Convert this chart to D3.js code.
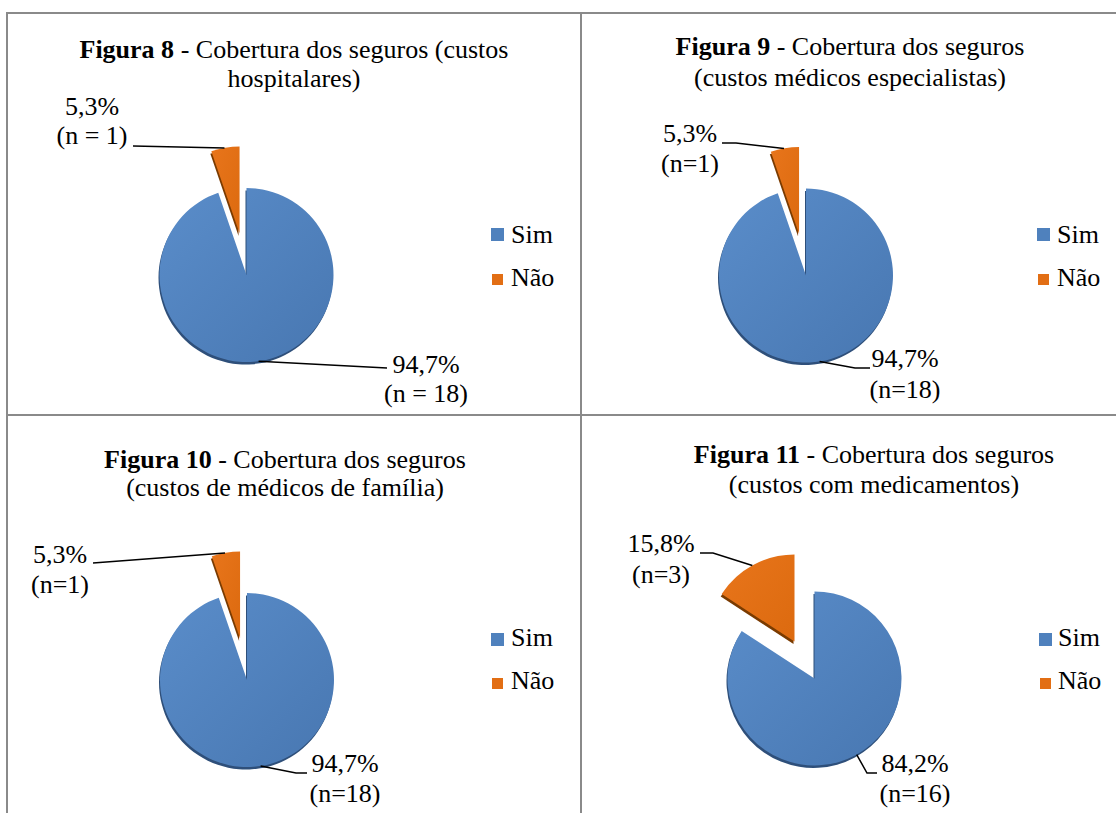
<!DOCTYPE html>
<html>
<head>
<meta charset="utf-8">
<script src="https://cdn.jsdelivr.net/npm/d3@7"></script>
<style>
  html, body { margin: 0; padding: 0; background: #fff; }
  svg text { font-family: "Liberation Serif", "Times New Roman", serif; fill: #000; }
</style>
</head>
<body>
<svg id="chart" width="1116" height="813"></svg>
<script>
// data
const categories = ["Sim", "Não"];
const figNumbers = ["Figura 8", "Figura 9", "Figura 10", "Figura 11"];
const titleLine1 = [" - Cobertura dos seguros (custos", " - Cobertura dos seguros", " - Cobertura dos seguros", " - Cobertura dos seguros"];
const titleLine2 = ["hospitalares)", "(custos médicos especialistas)", "(custos de médicos de família)", "(custos com medicamentos)"];
const fig8Values = [18, 1];
const fig9Values = [18, 1];
const fig10Values = [18, 1];
const fig11Values = [16, 3];
const countPrefix = ["n = ", "n=", "n=", "n="];

const allValues = [fig8Values, fig9Values, fig10Values, fig11Values];

// layout of each panel (positions only)
const layout = [
  { cx: 246.5, cy: 275, tx: 294, ty: [58, 87], legX: 491, legY: [228, 274], txtX: 511, txtY: [243, 286],
    labels: [ {x: 426, y: [373, 402], ang: 172, pts: [[387, 368]]},
              {x: 92, y: [115, 144], ang: -10, pts: [[133, 146]]} ] },
  { cx: 806, cy: 275.5, tx: 850, ty: [55, 86], legX: 1037, legY: [228, 274], txtX: 1057, txtY: [243, 286],
    labels: [ {x: 905, y: [367, 398], ang: 171, pts: [[855, 368], [870, 368]]},
              {x: 690, y: [142, 172], ang: -10, pts: [[736, 143], [722, 143]]} ] },
  { cx: 247, cy: 680, tx: 285, ty: [468, 496], legX: 491, legY: [633, 678], txtX: 511, txtY: [646, 689],
    labels: [ {x: 345, y: [772, 802], ang: 171, pts: [[296, 773], [307, 773]]},
              {x: 60, y: [563, 593], ang: -10, pts: [[93, 563]]} ] },
  { cx: 814.5, cy: 678.5, tx: 874, ty: [463, 493], legX: 1039, legY: [633, 678], txtX: 1058, txtY: [646, 689],
    labels: [ {x: 915, y: [772, 802], ang: 151, pts: [[867, 773], [877, 773]]},
              {x: 661, y: [552, 583], ang: -29, pts: [[713, 553], [700, 553]]} ] }
];

const radius = 87;
const explode = 42;
const fontSize = 26;

const color = d3.scaleOrdinal().domain(categories).range(["#4f81bd", "#e26e14"]);
const shadowColor = d3.scaleOrdinal().domain(categories).range(["#2f507a", "#7a3a06"]);
const legendSize = d3.scaleOrdinal().domain(categories).range([13, 11]);
const pctFormat = v => d3.format(".1f")(v).replace(".", ",") + "%";

const svg = d3.select("#chart");

const defs = svg.append("defs");
const gradBlue = defs.append("linearGradient").attr("id", "g-Sim")
  .attr("x1", 0).attr("y1", 0).attr("x2", 1).attr("y2", 1);
gradBlue.append("stop").attr("offset", "0%").attr("stop-color", "#5a8dca");
gradBlue.append("stop").attr("offset", "100%").attr("stop-color", "#4877b1");
const gradOrange = defs.append("linearGradient").attr("id", "g-Não")
  .attr("x1", 0).attr("y1", 0).attr("x2", 1).attr("y2", 1);
gradOrange.append("stop").attr("offset", "0%").attr("stop-color", "#e8751b");
gradOrange.append("stop").attr("offset", "100%").attr("stop-color", "#dc6a0f");
defs.append("filter").attr("id", "blur")
  .append("feGaussianBlur").attr("stdDeviation", 0.7);

// frame lines
const grid = svg.append("g").attr("stroke", "#8a8a8a").attr("stroke-width", 2);
grid.append("line").attr("x1", 6).attr("x2", 1116).attr("y1", 13).attr("y2", 13);
grid.append("line").attr("x1", 6).attr("x2", 1116).attr("y1", 415).attr("y2", 415);
grid.append("line").attr("x1", 7).attr("x2", 7).attr("y1", 12).attr("y2", 813);
grid.append("line").attr("x1", 581).attr("x2", 581).attr("y1", 12).attr("y2", 813);

const pie = d3.pie().sort(null).value(d => d);
const arc = d3.arc().innerRadius(0).outerRadius(radius);
const rad = a => a * Math.PI / 180;

allValues.forEach((values, i) => {
  const L = layout[i];
  const total = d3.sum(values);
  const g = svg.append("g");

  // title
  const title = g.append("g").attr("font-size", fontSize).attr("text-anchor", "middle");
  const t1 = title.append("text").attr("x", L.tx).attr("y", L.ty[0]);
  t1.append("tspan").attr("font-weight", "bold").text(figNumbers[i]);
  t1.append("tspan").text(titleLine1[i]);
  title.append("text").attr("x", L.tx).attr("y", L.ty[1]).text(titleLine2[i]);

  // pie
  const arcs = pie(values).map((d, k) => {
    const mid = (d.startAngle + d.endAngle) / 2;
    const off = k === 1 ? explode : 0;
    return Object.assign(d, { key: categories[k], ox: off * Math.sin(mid), oy: -off * Math.cos(mid) });
  });

  const pg = g.append("g").attr("transform", `translate(${L.cx},${L.cy})`);
  pg.selectAll(".shadow").data(arcs).enter().append("path")
    .attr("class", "shadow")
    .attr("transform", d => `translate(${d.ox - 1},${d.oy + 2.5})`)
    .attr("fill", d => shadowColor(d.key))
    .attr("filter", "url(#blur)")
    .attr("d", arc);
  pg.selectAll(".slice").data(arcs).enter().append("path")
    .attr("class", "slice")
    .attr("transform", d => `translate(${d.ox},${d.oy})`)
    .attr("fill", d => `url(#g-${d.key})`)
    .attr("d", arc);

  // data labels with leader lines
  arcs.forEach((d, k) => {
    const lab = L.labels[k];
    const a = rad(lab.ang);
    const sx = L.cx + d.ox + radius * Math.sin(a);
    const sy = L.cy + d.oy - radius * Math.cos(a);
    const pts = [[sx, sy]].concat(lab.pts);
    g.append("path")
      .attr("d", d3.line()(pts))
      .attr("fill", "none").attr("stroke", "#000").attr("stroke-width", 1.5);
    const tg = g.append("g").attr("font-size", fontSize).attr("text-anchor", "middle");
    tg.append("text").attr("x", lab.x).attr("y", lab.y[0]).text(pctFormat(d.data / total * 100));
    tg.append("text").attr("x", lab.x).attr("y", lab.y[1]).text("(" + countPrefix[i] + d.data + ")");
  });

  // legend
  const leg = g.append("g").attr("font-size", fontSize);
  categories.forEach((c, k) => {
    const s = legendSize(c);
    leg.append("rect")
      .attr("x", L.legX + (13 - s) / 2).attr("y", L.legY[k])
      .attr("width", s).attr("height", s)
      .attr("fill", color(c));
    leg.append("text").attr("x", L.txtX).attr("y", L.txtY[k]).text(c);
  });
});
</script>
</body>
</html>
